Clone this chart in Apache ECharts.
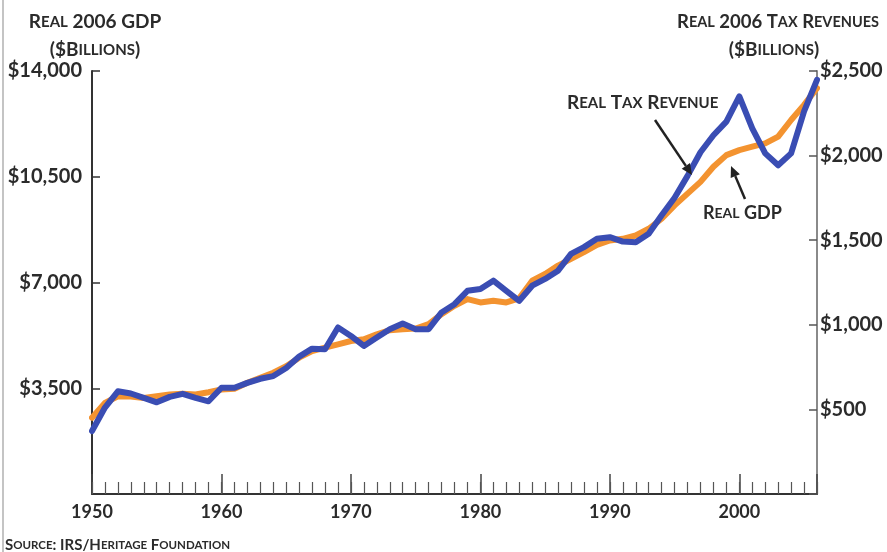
<!DOCTYPE html>
<html>
<head>
<meta charset="utf-8">
<script src="https://cdn.jsdelivr.net/npm/echarts@6/dist/echarts.min.js"></script>
<style>
  html, body { margin: 0; padding: 0; background: #fff; }
  #chart { width: 887px; height: 552px; }
</style>
</head>
<body>
<div id="chart"></div>
<script>
// years shown on the chart
var years = [1950, 1951, 1952, 1953, 1954, 1955, 1956, 1957, 1958, 1959,
	1960, 1961, 1962, 1963, 1964, 1965, 1966, 1967, 1968, 1969,
	1970, 1971, 1972, 1973, 1974, 1975, 1976, 1977, 1978, 1979,
	1980, 1981, 1982, 1983, 1984, 1985, 1986, 1987, 1988, 1989,
	1990, 1991, 1992, 1993, 1994, 1995, 1996, 1997, 1998, 1999,
	2000, 2001, 2002, 2003, 2004, 2005, 2006];

// real GDP, $ billions (left axis)
var realGdp = [2527, 3016, 3236, 3225, 3180, 3236, 3292, 3314, 3292, 3370,
	3458, 3480, 3680, 3846, 4013, 4230, 4512, 4732, 4844, 4954,
	5064, 5120, 5287, 5420, 5453, 5476, 5620, 5952, 6228, 6450,
	6341, 6395, 6341, 6474, 7060, 7282, 7558, 7780, 8003, 8246,
	8390, 8445, 8556, 8778, 9110, 9553, 9942, 10331, 10830, 11216,
	11382, 11494, 11604, 11827, 12379, 12878, 13433];

// real tax revenue, $ billions (right axis)
var realTax = [372, 511, 607, 594, 568, 542, 574, 592, 568, 548,
	628, 628, 657, 681, 697, 745, 812, 859, 855, 984,
	934, 875, 925, 974, 1008, 974, 974, 1073, 1122, 1201,
	1211, 1261, 1201, 1142, 1231, 1271, 1320, 1419, 1459, 1508,
	1518, 1492, 1488, 1538, 1647, 1751, 1880, 2020, 2120, 2201,
	2350, 2161, 2013, 1943, 2013, 2261, 2448];

var gdpTicks = [0, 3500, 7000, 10500, 14000];
var taxTicks = [0, 500, 1000, 1500, 2000, 2500];

var FONT = 'Lato';
var INK = '#2b2b2b';

function money(v) {
	if (v === 0) return '';
	return '$' + v.toLocaleString('en-US');
}

// small caps done with two font sizes
function scRich(big, small) {
	return {
		b: { fontFamily: FONT, fontWeight: 'bold', fontSize: big, color: INK },
		s: { fontFamily: FONT, fontWeight: 'bold', fontSize: small, color: INK }
	};
}

function label(text, x, y, align, big, small) {
	return {
		type: 'text',
		z: 100,
		style: {
			text: text,
			x: x,
			y: y,
			align: align,
			verticalAlign: 'middle',
			font: 'bold ' + big + 'px ' + FONT,
			fill: INK,
			rich: scRich(big, small)
		}
	};
}

function arrow(x1, y1, x2, y2) {
	var ang = Math.atan2(y2 - y1, x2 - x1), L = 11, W = 5;
	var bx = x2 - L * Math.cos(ang), by = y2 - L * Math.sin(ang);
	var px = -Math.sin(ang) * W, py = Math.cos(ang) * W;
	return [{
		type: 'line', z: 100,
		shape: { x1: x1, y1: y1, x2: bx, y2: by },
		style: { stroke: '#222', lineWidth: 2.5 }
	}, {
		type: 'polygon', z: 100,
		shape: { points: [[x2, y2], [bx + px, by + py], [bx - px, by - py]] },
		style: { fill: '#222' }
	}];
}

var myChart = echarts.init(document.getElementById('chart'));

var graphics = [
	// frame line at the far left
	{ type: 'line', shape: { x1: 3, y1: 0, x2: 3, y2: 552 }, style: { stroke: '#c4c4c4', lineWidth: 2 } },
	label('{b|R}{s|EAL} {b|2006 GDP}', 95, 22, 'center', 19, 15),
	label('{b|($B}{s|ILLIONS}{b|)}', 95, 50, 'center', 19, 15),
	label('{b|R}{s|EAL} {b|2006 T}{s|AX} {b|R}{s|EVENUES}', 778, 22, 'center', 18.5, 14.5),
	label('{b|($B}{s|ILLIONS}{b|)}', 774, 50, 'center', 19, 15),
	label('{b|R}{s|EAL} {b|T}{s|AX} {b|R}{s|EVENUE}', 567, 103, 'left', 19, 15),
	label('{b|R}{s|EAL} {b|GDP}', 703, 213, 'left', 18, 14),
	label('{b|S}{s|OURCE}{b|: IRS/H}{s|ERITAGE} {b|F}{s|OUNDATION}', 5, 545, 'left', 15, 11.5)
].concat(arrow(655, 120, 692, 175)).concat(arrow(745, 199, 731, 166));

var option = {
	animation: false,
	backgroundColor: '#fff',
	grid: { left: 92, right: 70, top: 71, bottom: 58, containLabel: false },
	xAxis: [{
		type: 'value',
		min: 1950,
		max: 2006,
		interval: 10,
		axisLine: { lineStyle: { color: '#333', width: 2 } },
		axisTick: { inside: true, length: 20, lineStyle: { color: '#444', width: 1.5 } },
		axisLabel: {
			formatter: function(v) { return v % 10 === 0 ? String(v) : ''; },
			fontFamily: FONT, fontWeight: 'bold', fontSize: 18, color: INK, margin: 9
		},
		splitLine: { show: false }
	}, {
		// yearly minor ticks
		type: 'value',
		min: 1950,
		max: 2006,
		interval: 1,
		position: 'bottom',
		axisLine: { show: false },
		axisTick: { inside: true, length: 12, lineStyle: { color: '#555', width: 1.2 } },
		axisLabel: { show: false },
		splitLine: { show: false }
	}],
	yAxis: [{
		type: 'value',
		min: gdpTicks[0],
		max: gdpTicks[gdpTicks.length - 1],
		interval: gdpTicks[1] - gdpTicks[0],
		axisLine: { show: true, lineStyle: { color: '#333', width: 2 } },
		axisTick: { show: true, inside: true, length: 8, lineStyle: { color: '#333', width: 1.5 } },
		axisLabel: { formatter: money, fontFamily: FONT, fontWeight: 'bold', fontSize: 20, color: INK, margin: 10 },
		splitLine: { show: false }
	}, {
		type: 'value',
		position: 'right',
		min: taxTicks[0],
		max: taxTicks[taxTicks.length - 1],
		interval: taxTicks[1] - taxTicks[0],
		axisLine: { show: true, lineStyle: { color: '#8a8a8a', width: 2 } },
		axisTick: { show: true, inside: true, length: 8, lineStyle: { color: '#555', width: 1.5 } },
		axisLabel: { formatter: money, fontFamily: FONT, fontWeight: 'bold', fontSize: 20, color: INK, margin: 3 },
		splitLine: { show: false }
	}],
	series: [{
		name: 'Real GDP',
		type: 'line',
		xAxisIndex: 0,
		yAxisIndex: 0,
		showSymbol: false,
		z: 2,
		lineStyle: { color: '#f39330', width: 6, cap: 'round', join: 'round' },
		data: years.map(function(y, i) { return [y, realGdp[i]]; })
	}, {
		name: 'Real Tax Revenue',
		type: 'line',
		xAxisIndex: 0,
		yAxisIndex: 1,
		showSymbol: false,
		z: 3,
		lineStyle: { color: '#3a4db3', width: 6, cap: 'round', join: 'round' },
		data: years.map(function(y, i) { return [y, realTax[i]]; })
	}],
	graphic: graphics
};

myChart.setOption(option);
</script>
</body>
</html>
